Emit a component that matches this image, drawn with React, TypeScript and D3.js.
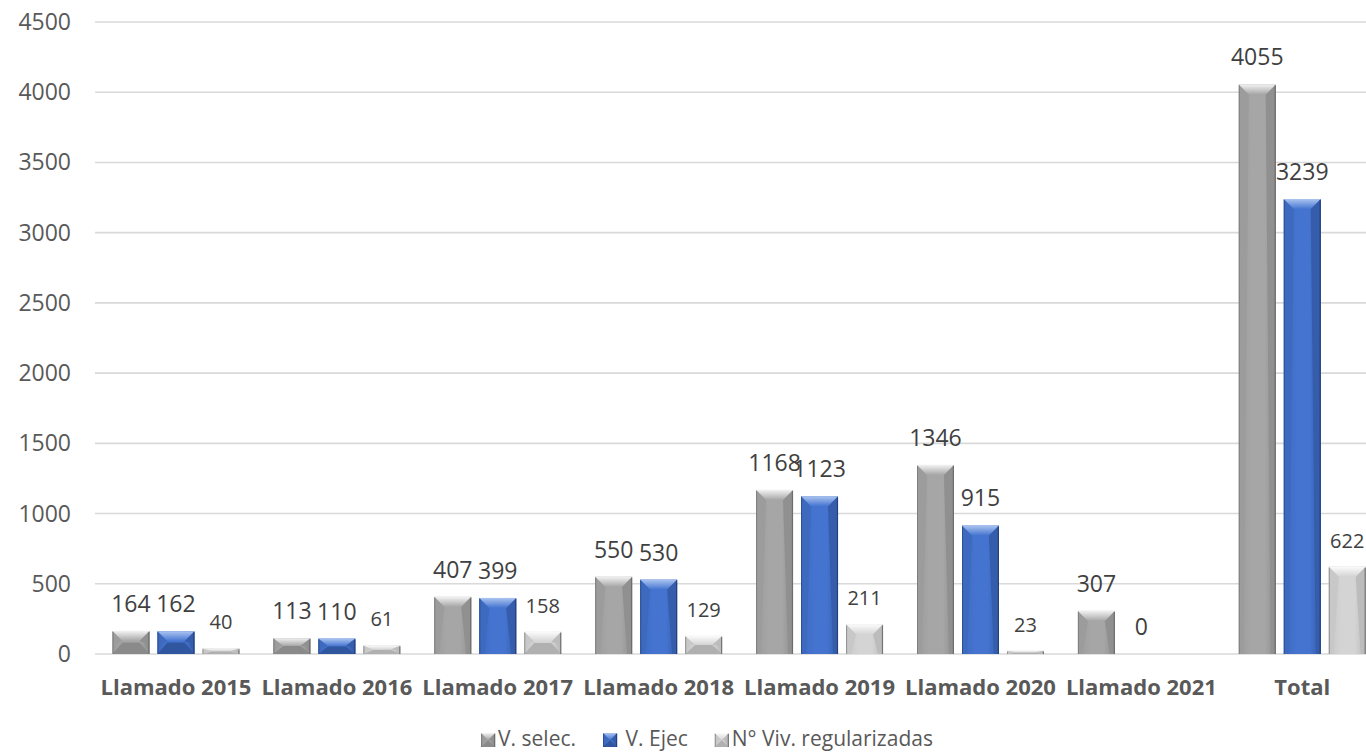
import React, { useMemo } from "react";
import * as d3 from "d3";

const categories = [
  "Llamado 2015",
  "Llamado 2016",
  "Llamado 2017",
  "Llamado 2018",
  "Llamado 2019",
  "Llamado 2020",
  "Llamado 2021",
  "Total",
];
const seriesNames = ["V. selec.", " V. Ejec", "N° Viv. regularizadas"];
const vSelec: (number | null)[] = [164, 113, 407, 550, 1168, 1346, 307, 4055];
const vEjec: (number | null)[] = [162, 110, 399, 530, 1123, 915, 0, 3239];
const nViv: (number | null)[] = [40, 61, 158, 129, 211, 23, null, 622];
const yTicks = [0, 500, 1000, 1500, 2000, 2500, 3000, 3500, 4000, 4500];

const W = 1366;
const H = 752;
const FONT = "'Open Sans', 'Noto Sans', sans-serif";

const palettes = [
  { base: "#a6a6a6", light: "#f2f2f2", sideL: "#9c9c9c", sideR: "#909090", bottom: "#8a8a8a", edge: "#6a6a6a" },
  { base: "#4474d0", light: "#abc4f0", sideL: "#3d69bf", sideR: "#355dab", bottom: "#3056a0", edge: "#223f78" },
  { base: "#d4d4d4", light: "#fbfbfb", sideL: "#c8c8c8", sideR: "#bcbcbc", bottom: "#b0b0b0", edge: "#6d6d6d" },
];
const labelSizes = [23, 23, 20];

function measure(text: string, font: string): number {
  if (typeof document === "undefined") return text.length * 10;
  const c = document.createElement("canvas");
  const ctx = c.getContext("2d");
  if (!ctx) return text.length * 10;
  ctx.font = font;
  return ctx.measureText(text).width;
}

function Bar({ x, y, w, h, p, id }: { x: number; y: number; w: number; h: number; p: any; id: string }) {
  if (h <= 0.5) return null;
  const bt = Math.min(10, h / 2);
  const bi = Math.min(10, w / 2);
  const bs = Math.min(5, w / 2);
  const short = h <= 26;
  const bb = short ? h / 2 : 0;
  const topPts = [
    [x, y],
    [x + w, y],
    [x + w - bi, y + bt],
    [x + bi, y + bt],
  ];
  const leftPts = [
    [x, y],
    [x + bi, y + bt],
    [x + bs, y + h - bb],
    [x, y + h],
  ];
  const rightPts = [
    [x + w, y],
    [x + w - bi, y + bt],
    [x + w - bs, y + h - bb],
    [x + w, y + h],
  ];
  const botPts = [
    [x, y + h],
    [x + w, y + h],
    [x + w - bi, y + h - bb],
    [x + bi, y + h - bb],
  ];
  const pts = (a: number[][]) => a.map((q) => q.join(",")).join(" ");
  return (
    <g>
      <rect x={x} y={y} width={w} height={h} fill={`url(#body-${id})`} />
      <polygon points={pts(leftPts)} fill={p.sideL} />
      <polygon points={pts(rightPts)} fill={p.sideR} />
      {short && <polygon points={pts(botPts)} fill={p.bottom} />}
      <polygon points={pts(topPts)} fill={`url(#top-${id})`} />
      <line x1={x + 0.5} x2={x + 0.5} y1={y + 1} y2={y + h} stroke={p.edge} strokeWidth={1} opacity={0.6} />
      <line x1={x + w - 0.5} x2={x + w - 0.5} y1={y + 1} y2={y + h} stroke={p.edge} strokeWidth={1.2} opacity={0.9} />
    </g>
  );
}

export default function App() {
  const series = [vSelec, vEjec, nViv];
  const y = d3.scaleLinear().domain([0, 4500]).range([654, 22]);
  const x0 = d3
    .scaleBand<string>()
    .domain(categories)
    .range([95.5, 95.5 + 8 * 160.9])
    .padding(0);
  const x1 = d3
    .scaleBand<number>()
    .domain([0, 1, 2])
    .range([0, x0.bandwidth()])
    .paddingInner(0.18)
    .paddingOuter(0.378);

  const legend = useMemo(() => {
    const font = `21px ${FONT}`;
    const widths = seriesNames.map((n) => measure(n, font));
    const marker = 14;
    const gapM = 3;
    const gapI = 27;
    const total = widths.reduce((s, w) => s + marker + gapM + w, 0) + gapI * (widths.length - 1);
    let cx = 707 - total / 2;
    return widths.map((w, i) => {
      const item = { mx: cx, tx: cx + marker + gapM, name: seriesNames[i], i };
      cx += marker + gapM + w + gapI;
      return item;
    });
  }, []);

  return (
    <svg
      width={W}
      height={H}
      style={{ position: "absolute", left: 0, top: 0, background: "#fff" }}
      fontFamily={FONT}
    >
      <defs>
        {palettes.map((p, i) => (
          <React.Fragment key={i}>
            <linearGradient id={`body-${i}`} x1="0" x2="1" y1="0" y2="0">
              <stop offset="0" stopColor={p.sideL} />
              <stop offset="0.35" stopColor={p.base} />
              <stop offset="0.7" stopColor={p.base} />
              <stop offset="1" stopColor={p.sideR} />
            </linearGradient>
            <linearGradient id={`top-${i}`} x1="0" x2="0" y1="0" y2="1">
              <stop offset="0" stopColor={p.light} />
              <stop offset="1" stopColor={p.base} />
            </linearGradient>
          </React.Fragment>
        ))}
      </defs>
      <rect x={0} y={0} width={W} height={H} fill="#fff" />
      {yTicks.map((t) => (
        <g key={t}>
          <line x1={95} x2={W} y1={y(t)} y2={y(t)} stroke="#d9d9d9" strokeWidth={1.6} />
          <text x={71} y={y(t) + 8} textAnchor="end" fontSize={23} fill="#595959">
            {t}
          </text>
        </g>
      ))}
      {categories.map((c, ci) => (
        <g key={c}>
          {series.map((s, si) => {
            const v = s[ci];
            if (v === null || v === undefined) return null;
            const bx = (x0(c) as number) + (x1(si) as number);
            const bw = x1.bandwidth();
            const top = y(v);
            return (
              <g key={si}>
                <Bar x={bx} y={top} w={bw} h={y(0) - top} p={palettes[si]} id={String(si)} />
                <text
                  x={bx + bw / 2}
                  y={top - 19}
                  textAnchor="middle"
                  fontSize={labelSizes[si]}
                  fill="#404040"
                >
                  {v}
                </text>
              </g>
            );
          })}
          <text
            x={(x0(c) as number) + x0.bandwidth() / 2}
            y={695}
            textAnchor="middle"
            fontSize={22}
            fontWeight="bold"
            fill="#595959"
          >
            {c}
          </text>
        </g>
      ))}
      {legend.map((l) => (
        <g key={l.i}>
          <Bar x={l.mx} y={733} w={14} h={14} p={palettes[l.i]} id={String(l.i)} />
          <text x={l.tx} y={746} fontSize={21} fill="#595959" style={{ whiteSpace: "pre" }}>
            {l.name}
          </text>
        </g>
      ))}
    </svg>
  );
}
